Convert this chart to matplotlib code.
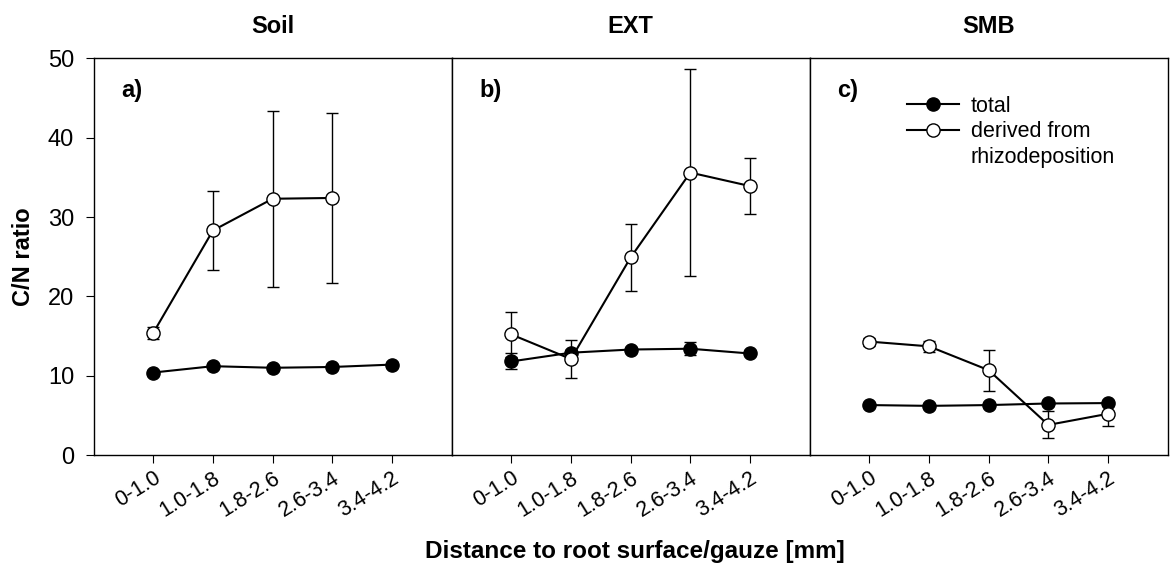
import numpy as np
import matplotlib
matplotlib.use("Agg")
import matplotlib.pyplot as plt
from matplotlib.lines import Line2D

plt.rcParams["font.family"] = ["Liberation Sans", "DejaVu Sans"]

# ---------------------------------------------------------------------------
# Data (C/N ratio, mean +/- error)
# ---------------------------------------------------------------------------
DISTANCES = ["0-1.0", "1.0-1.8", "1.8-2.6", "2.6-3.4", "3.4-4.2"]
PANELS = ["Soil", "EXT", "SMB"]
PANEL_TAGS = ["a)", "b)", "c)"]

soil_total = [10.4, 11.2, 11.0, 11.1, 11.4]
soil_total_err = [0.2, 0.2, 0.2, 0.2, 0.3]
soil_rhizo = [15.4, 28.3, 32.3, 32.4, np.nan]
soil_rhizo_err = [0.8, 5.0, 11.1, 10.7, np.nan]

ext_total = [11.8, 12.9, 13.3, 13.4, 12.8]
ext_total_err = [1.0, 0.3, 0.2, 0.8, 0.2]
ext_rhizo = [15.2, 12.1, 24.9, 35.6, 33.9]
ext_rhizo_err = [2.8, 2.4, 4.2, 13.0, 3.5]

smb_total = [6.3, 6.2, 6.3, 6.5, 6.55]
smb_total_err = [0.2, 0.2, 0.2, 0.3, 0.2]
smb_rhizo = [14.3, 13.7, 10.7, 3.8, 5.2]
smb_rhizo_err = [0.5, 0.7, 2.6, 1.7, 1.5]

TOTAL = [soil_total, ext_total, smb_total]
TOTAL_ERR = [soil_total_err, ext_total_err, smb_total_err]
RHIZO = [soil_rhizo, ext_rhizo, smb_rhizo]
RHIZO_ERR = [soil_rhizo_err, ext_rhizo_err, smb_rhizo_err]

x = np.arange(1, len(DISTANCES) + 1)

fig, axes = plt.subplots(1, 3, figsize=(11.7, 5.66), dpi=100, sharey=True)
fig.subplots_adjust(left=0.080, right=0.998, top=0.897, bottom=0.196, wspace=0)

# capsize is half the cap width in matplotlib
err_style = dict(fmt="none", ecolor="black", elinewidth=1.0, capsize=4.5, capthick=1.0)
line_style = dict(color="black", lw=1.5, marker="o", markersize=9.5,
                  markeredgecolor="black", markeredgewidth=1.0)

for i, ax in enumerate(axes):
    # error bars first, so the markers sit on top of the caps
    ax.errorbar(x, TOTAL[i], yerr=TOTAL_ERR[i], zorder=2, **err_style)
    ax.errorbar(x, RHIZO[i], yerr=RHIZO_ERR[i], zorder=2, **err_style)
    ax.plot(x, TOTAL[i], markerfacecolor="black", zorder=3, **line_style)
    ax.plot(x, RHIZO[i], markerfacecolor="white", zorder=4, **line_style)
    ax.set_xlim(0, 6)
    ax.set_ylim(0, 50)
    ax.set_xticks(x)
    ax.set_xticklabels(DISTANCES, rotation=32, ha="right", rotation_mode="anchor",
                       fontsize=15.5)
    ax.tick_params(axis="x", direction="out", length=6, width=0.8, pad=3)
    ax.set_title(PANELS[i], fontsize=17, fontweight="bold", pad=18)
    ax.text(0.078, 0.947, PANEL_TAGS[i], transform=ax.transAxes, fontsize=17,
            fontweight="bold", va="top")
    for sp in ax.spines.values():
        sp.set_linewidth(1.0)
    if i == 0:
        ax.set_yticks(np.arange(0, 51, 10))
        ax.tick_params(axis="y", direction="out", length=6, width=0.8,
                       labelsize=17, pad=8)
        ax.set_ylabel("C/N ratio", fontsize=17, fontweight="bold", labelpad=9)
    else:
        ax.tick_params(axis="y", left=False, labelleft=False)

# legend: handle sits on the first line of the two-line label
h_total = Line2D([], [], color="black", lw=1.5, marker="o", markersize=9.5,
                 markerfacecolor="black", markeredgecolor="black")
h_rhizo = Line2D([], [], color="black", lw=1.5, marker="o", markersize=9.5,
                 markerfacecolor="white", markeredgecolor="black")
h_blank = Line2D([], [], color="none")
axes[2].legend([h_total, h_rhizo, h_blank],
               ["total", "derived from", "rhizodeposition"],
               loc="upper left", bbox_to_anchor=(0.272, 0.905), frameon=False,
               fontsize=15.5, handlelength=2.4, handletextpad=0.55,
               labelspacing=0.2, borderpad=0, borderaxespad=0)

fig.text(0.543, 0.014, "Distance to root surface/gauze [mm]", ha="center",
         va="baseline", fontsize=17.5, fontweight="bold")

fig.savefig("out.png", dpi=100)
